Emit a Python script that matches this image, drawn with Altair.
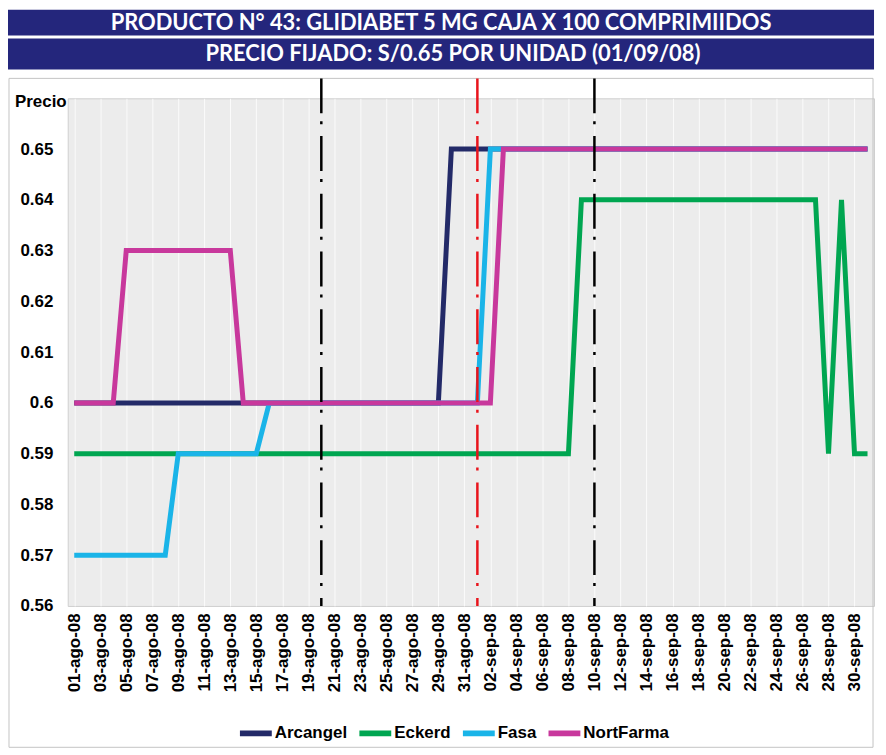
import altair as alt
import pandas as pd

# ---------------- data ----------------
title_1 = "PRODUCTO N° 43: GLIDIABET 5 MG CAJA X 100 COMPRIMIIDOS"
title_2 = "PRECIO FIJADO: S/0.65 POR UNIDAD (01/09/08)"
y_title = "Precio"

dates = [f"{d:02d}-ago-08" for d in range(1, 32)] + \
        [f"{d:02d}-sep-08" for d in range(1, 31)] + ["01-oct-08"]

series = ["Arcangel", "Eckerd", "Fasa", "NortFarma"]
colors = ["#232a68", "#00a651", "#1ab4e8", "#c8389c"]

arcangel = [0.60, 0.60, 0.60, 0.60, 0.60, 0.60, 0.60, 0.60, 0.60, 0.60,
            0.60, 0.60, 0.60, 0.60, 0.60, 0.60, 0.60, 0.60, 0.60, 0.60,
            0.60, 0.60, 0.60, 0.60, 0.60, 0.60, 0.60, 0.60, 0.60, 0.65,
            0.65, 0.65, 0.65, 0.65, 0.65, 0.65, 0.65, 0.65, 0.65, 0.65,
            0.65, 0.65, 0.65, 0.65, 0.65, 0.65, 0.65, 0.65, 0.65, 0.65,
            0.65, 0.65, 0.65, 0.65, 0.65, 0.65, 0.65, 0.65, 0.65, 0.65,
            0.65, 0.65]
eckerd = [0.59, 0.59, 0.59, 0.59, 0.59, 0.59, 0.59, 0.59, 0.59, 0.59,
          0.59, 0.59, 0.59, 0.59, 0.59, 0.59, 0.59, 0.59, 0.59, 0.59,
          0.59, 0.59, 0.59, 0.59, 0.59, 0.59, 0.59, 0.59, 0.59, 0.59,
          0.59, 0.59, 0.59, 0.59, 0.59, 0.59, 0.59, 0.59, 0.59, 0.64,
          0.64, 0.64, 0.64, 0.64, 0.64, 0.64, 0.64, 0.64, 0.64, 0.64,
          0.64, 0.64, 0.64, 0.64, 0.64, 0.64, 0.64, 0.64, 0.59, 0.64,
          0.59, 0.59]
fasa = [0.57, 0.57, 0.57, 0.57, 0.57, 0.57, 0.57, 0.57, 0.59, 0.59,
        0.59, 0.59, 0.59, 0.59, 0.59, 0.60, 0.60, 0.60, 0.60, 0.60,
        0.60, 0.60, 0.60, 0.60, 0.60, 0.60, 0.60, 0.60, 0.60, 0.60,
        0.60, 0.60, 0.65, 0.65, 0.65, 0.65, 0.65, 0.65, 0.65, 0.65,
        0.65, 0.65, 0.65, 0.65, 0.65, 0.65, 0.65, 0.65, 0.65, 0.65,
        0.65, 0.65, 0.65, 0.65, 0.65, 0.65, 0.65, 0.65, 0.65, 0.65,
        0.65, 0.65]
nortfarma = [0.60, 0.60, 0.60, 0.60, 0.63, 0.63, 0.63, 0.63, 0.63, 0.63,
             0.63, 0.63, 0.63, 0.60, 0.60, 0.60, 0.60, 0.60, 0.60, 0.60,
             0.60, 0.60, 0.60, 0.60, 0.60, 0.60, 0.60, 0.60, 0.60, 0.60,
             0.60, 0.60, 0.60, 0.65, 0.65, 0.65, 0.65, 0.65, 0.65, 0.65,
             0.65, 0.65, 0.65, 0.65, 0.65, 0.65, 0.65, 0.65, 0.65, 0.65,
             0.65, 0.65, 0.65, 0.65, 0.65, 0.65, 0.65, 0.65, 0.65, 0.65,
             0.65, 0.65]

y_ticks = [0.56, 0.57, 0.58, 0.59, 0.60, 0.61, 0.62, 0.63, 0.64, 0.65]
black_markers = ["20-ago-08", "10-sep-08"]
red_markers = ["01-sep-08"]

# ---------------- build table ----------------
rows = []
for name, vals in zip(series, [arcangel, eckerd, fasa, nortfarma]):
    for d, v in zip(dates, vals):
        rows.append({"fecha": d, "precio": v, "serie": name})
df = pd.DataFrame(rows)

W, H = 810, 510
L = -60          # left edge of decorations relative to plot
R = W            # right edge
FONT = "Liberation Sans"
x_scale = alt.Scale(domain=dates, type="point", padding=0.5)
y_scale = alt.Scale(domain=[0.56, 0.66], nice=False, zero=False)

base_x = alt.X(
    "fecha:O", sort=dates, scale=x_scale, title=None,
    axis=alt.Axis(values=dates[::2], labelAngle=-90, labelFontSize=17,
                  labelFontWeight="bold", labelFont=FONT, labelColor="#000000",
                  labelPadding=7, ticks=False, domain=False, grid=True,
                  gridColor="#ffffff", gridOpacity=0.8, labelOverlap=False))

lines = alt.Chart(df).mark_line(strokeWidth=5, strokeJoin="miter", strokeCap="butt").encode(
    x=base_x,
    y=alt.Y("precio:Q", scale=y_scale, title=None,
            axis=alt.Axis(values=y_ticks, format=".2~f", labelFontSize=17,
                          labelFontWeight="bold", labelFont=FONT, labelColor="#000000",
                          labelPadding=15, ticks=False, domain=False, grid=False)),
    color=alt.Color("serie:N", scale=alt.Scale(domain=series, range=colors),
                    legend=alt.Legend(title=None, orient="none", legendX=170, legendY=619,
                                      direction="horizontal", symbolType="stroke",
                                      symbolStrokeWidth=6, symbolSize=1024,
                                      labelFontSize=17, labelFontWeight="bold",
                                      labelFont=FONT, labelColor="#000000",
                                      labelOffset=0, columnPadding=0)),
)

black_rules = alt.Chart(pd.DataFrame({"fecha": black_markers})).mark_rule(
    color="#000000", strokeWidth=2.5, strokeDash=[35, 8, 3, 12]).encode(
    x=alt.X("fecha:O", sort=dates, scale=x_scale),
    y=alt.value(-20), y2=alt.value(H))

red_rules = alt.Chart(pd.DataFrame({"fecha": red_markers})).mark_rule(
    color="#e8141c", strokeWidth=2.5, strokeDash=[35, 8, 3, 12]).encode(
    x=alt.X("fecha:O", sort=dates, scale=x_scale),
    y=alt.value(-20), y2=alt.value(H))

one = pd.DataFrame({"t1": [title_1], "t2": [title_2], "yt": [y_title]})

frame = alt.Chart(one).mark_rect(fillOpacity=0, stroke="#c4c4c4", strokeWidth=1).encode(
    x=alt.value(L + 1), x2=alt.value(R - 1), y=alt.value(-20), y2=alt.value(652))

band1 = alt.Chart(one).mark_rect(color="#24267c").encode(
    x=alt.value(L), x2=alt.value(R), y=alt.value(-89), y2=alt.value(-63))
band2 = alt.Chart(one).mark_rect(color="#24267c").encode(
    x=alt.value(L), x2=alt.value(R), y=alt.value(-60), y2=alt.value(-29))

text1 = alt.Chart(one).mark_text(font="Lato", fontSize=22, fontWeight="bold", color="#ffffff",
                                 align="center", baseline="middle").encode(
    x=alt.value(375), y=alt.value(-76), text="t1:N")
text2 = alt.Chart(one).mark_text(font="Lato", fontSize=22, fontWeight="bold", color="#ffffff",
                                 align="center", baseline="middle").encode(
    x=alt.value(387), y=alt.value(-44), text="t2:N")

ytitle = alt.Chart(one).mark_text(font=FONT, fontSize=17, fontWeight="bold", color="#000000",
                                  align="left", baseline="middle").encode(
    x=alt.value(-53), y=alt.value(4), text="yt:N")

chart = alt.layer(frame, band1, band2, text1, text2, ytitle, lines, black_rules, red_rules).properties(
    width=W, height=H, padding=0, background="#ffffff"
).configure_view(fill="#ececec", stroke="#cfcfcf", strokeWidth=1)

chart.save("out.html", embed_options={"renderer": "svg", "actions": False})
